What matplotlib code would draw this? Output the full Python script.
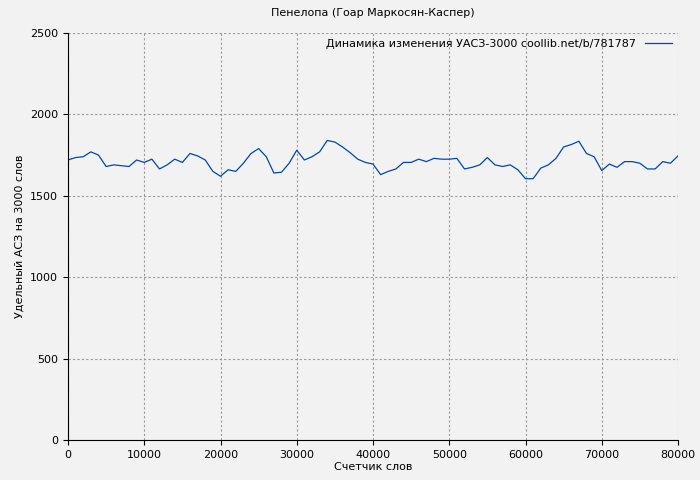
import matplotlib
matplotlib.use("Agg")
import matplotlib.pyplot as plt

words = [i * 1000 for i in range(81)]
uasz = [1720, 1735, 1740, 1770, 1750, 1680, 1690, 1685, 1680, 1720,
        1705, 1725, 1665, 1690, 1725, 1705, 1760, 1745, 1720, 1650,
        1620, 1660, 1650, 1700, 1760, 1790, 1740, 1640, 1645, 1700,
        1780, 1720, 1740, 1770, 1840, 1830, 1800, 1765, 1725, 1705,
        1695, 1630, 1650, 1665, 1705, 1705, 1725, 1710, 1730, 1725,
        1725, 1730, 1665, 1675, 1690, 1735, 1690, 1680, 1690, 1660,
        1605, 1605, 1670, 1690, 1730, 1800, 1815, 1835, 1760, 1740,
        1655, 1695, 1675, 1710, 1710, 1700, 1665, 1665, 1710, 1700,
        1745]

fig = plt.figure(figsize=(7, 4.8), dpi=100, facecolor="#f2f2f2")
ax = fig.add_axes([68 / 700, 40 / 480, 610 / 700, 407 / 480])
ax.set_facecolor("#f2f2f2")
ax.plot(words, uasz, color="#0047b3", linewidth=0.9,
        label="Динамика изменения УАСЗ-3000 coollib.net/b/781787")
ax.set_xlim(0, 80000)
ax.set_ylim(0, 2500)
ax.set_xticks(range(0, 80001, 10000))
ax.set_yticks(range(0, 2501, 500))
ax.grid(True, color="#999999", linestyle=(0, (2, 2)), linewidth=0.8)
for s in ("top", "right"):
    ax.spines[s].set_visible(False)
ax.tick_params(labelsize=8)
ax.set_xlabel("Счетчик слов", fontsize=8, labelpad=2)
ax.set_ylabel("Удельный АСЗ на 3000 слов", fontsize=8)
ax.set_title("Пенелопа (Гоар Маркосян-Каспер)", fontsize=8, pad=12)
ax.legend(loc="upper right", fontsize=8, frameon=False, markerfirst=False,
          handlelength=2.5, borderaxespad=0.1)
fig.savefig("out.png", dpi=100, facecolor=fig.get_facecolor())
